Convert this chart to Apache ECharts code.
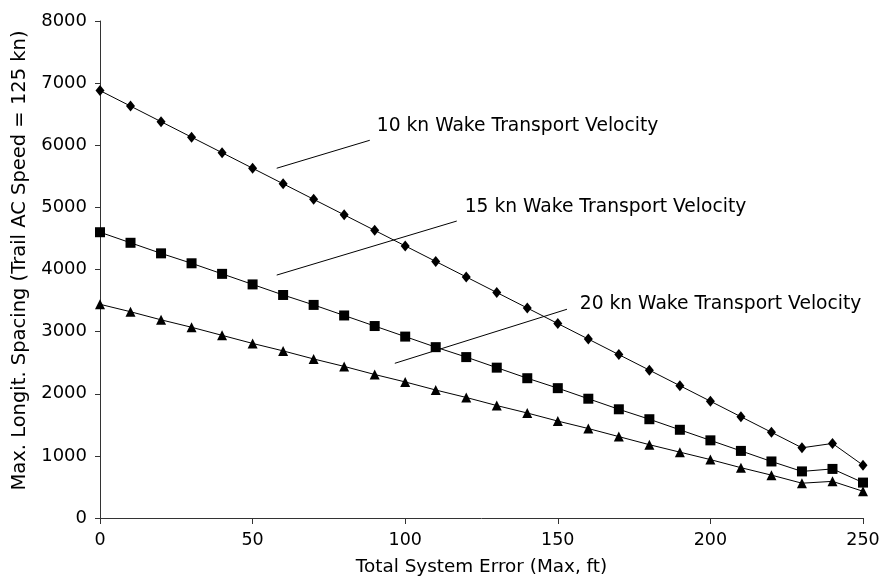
<!DOCTYPE html>
<html>
<head>
<meta charset="utf-8">
<script src="https://cdn.jsdelivr.net/npm/echarts@6/dist/echarts.min.js"></script>
<style>
  html, body { margin: 0; padding: 0; background: #fff; }
  #chart { width: 883px; height: 586px; }
</style>
</head>
<body>
<div id="chart"></div>
<script>
// Total system error (ft)
const errorFt = [0, 10, 20, 30, 40, 50, 60, 70, 80, 90, 100, 110, 120, 130, 140, 150,
                 160, 170, 180, 190, 200, 210, 220, 230, 240, 250];

// Max. longitudinal spacing (ft) for each wake transport velocity
const spacing10kn = [6880, 6630, 6380, 6130, 5880, 5630, 5380, 5130, 4880, 4630, 4380, 4130, 3880,
                     3630, 3380, 3130, 2880, 2630, 2380, 2130, 1880, 1630, 1380, 1130, 1200, 850];
const spacing15kn = [4600, 4430, 4260, 4100, 3930, 3760, 3590, 3430, 3260, 3090, 2920, 2750, 2590,
                     2420, 2250, 2090, 1920, 1750, 1590, 1420, 1250, 1080, 910, 750, 790, 570];
const spacing20kn = [3440, 3320, 3190, 3070, 2940, 2810, 2690, 2560, 2440, 2310, 2190, 2060, 1940,
                     1810, 1690, 1560, 1440, 1310, 1180, 1060, 940, 810, 690, 560, 590, 430];

// Callout labels with their leader lines (data coordinates)
const noteTexts = ['10 kn Wake Transport Velocity', '15 kn Wake Transport Velocity', '20 kn Wake Transport Velocity'];
const noteLineFrom = [[57.9, 5630], [57.9, 3910], [96.6, 2490]];
const noteLineTo   = [[88.4, 6080], [116.9, 4780], [153.0, 3360]];
const noteTextAt   = [[90.7, 6310], [119.5, 5000], [157.2, 3450]];

const FONT = 'DejaVu Sans';
const chart = echarts.init(document.getElementById('chart'), null, { renderer: 'canvas' });

function pairs(ys) { return ys.map((v, i) => [errorFt[i], v]); }

function lineSeries(name, ys, symbol, size) {
  return {
    name, type: 'line', data: pairs(ys),
    symbol, symbolSize: size,
    lineStyle: { color: '#000', width: 1 },
    itemStyle: { color: '#000', borderWidth: 0 },
    emphasis: { disabled: true },
    animation: false
  };
}

const axisLine = { show: true, lineStyle: { color: '#333', width: 1 } };

chart.setOption({
  backgroundColor: '#fff',
  animation: false,
  grid: { left: 100, right: 20, top: 21, bottom: 68, containLabel: false, outerBoundsMode: 'none' },
  xAxis: {
    type: 'value', min: 0, max: 250, interval: 50,
    name: 'Total System Error (Max, ft)', nameLocation: 'middle', nameGap: 40,
    nameTextStyle: { fontFamily: FONT, fontSize: 18.4, color: '#000' },
    axisLine, axisTick: { show: true, length: 6, lineStyle: { color: '#333' } },
    axisLabel: { fontFamily: FONT, fontSize: 17.5, color: '#000', margin: 13, formatter: v => String(v) },
    splitLine: { show: false }
  },
  yAxis: {
    type: 'value', min: 0, max: 8000, interval: 1000,
    name: 'Max. Longit. Spacing (Trail AC Speed = 125 kn)', nameLocation: 'middle', nameGap: 66,
    nameTextStyle: { fontFamily: FONT, fontSize: 19.5, color: '#000', padding: [0, 0, 0, 18] },
    axisLine, axisTick: { show: true, length: 5, inside: false, lineStyle: { color: '#333' } },
    axisLabel: { fontFamily: FONT, fontSize: 18, color: '#000', margin: 13, formatter: v => String(v) },
    splitLine: { show: false }
  },
  series: [
    lineSeries('10 kn', spacing10kn, 'diamond', [9, 11]),
    lineSeries('15 kn', spacing15kn, 'rect', 10),
    lineSeries('20 kn', spacing20kn, 'triangle', 10)
  ]
});

// Place callout texts and leader lines using the chart's own coordinate conversion
const toPx = p => chart.convertToPixel({ gridIndex: 0 }, p);
const graphics = [];
noteTexts.forEach((t, i) => {
  const a = toPx(noteLineFrom[i]), b = toPx(noteLineTo[i]), c = toPx(noteTextAt[i]);
  graphics.push({
    type: 'line', silent: true,
    shape: { x1: a[0], y1: a[1], x2: b[0], y2: b[1] },
    style: { stroke: '#000', lineWidth: 1 }
  });
  graphics.push({
    type: 'text', silent: true, x: c[0], y: c[1],
    style: { text: t, fill: '#000', font: '18.7px "' + FONT + '"', textAlign: 'left', textVerticalAlign: 'middle' }
  });
});
chart.setOption({ graphic: graphics });
</script>
</body>
</html>
